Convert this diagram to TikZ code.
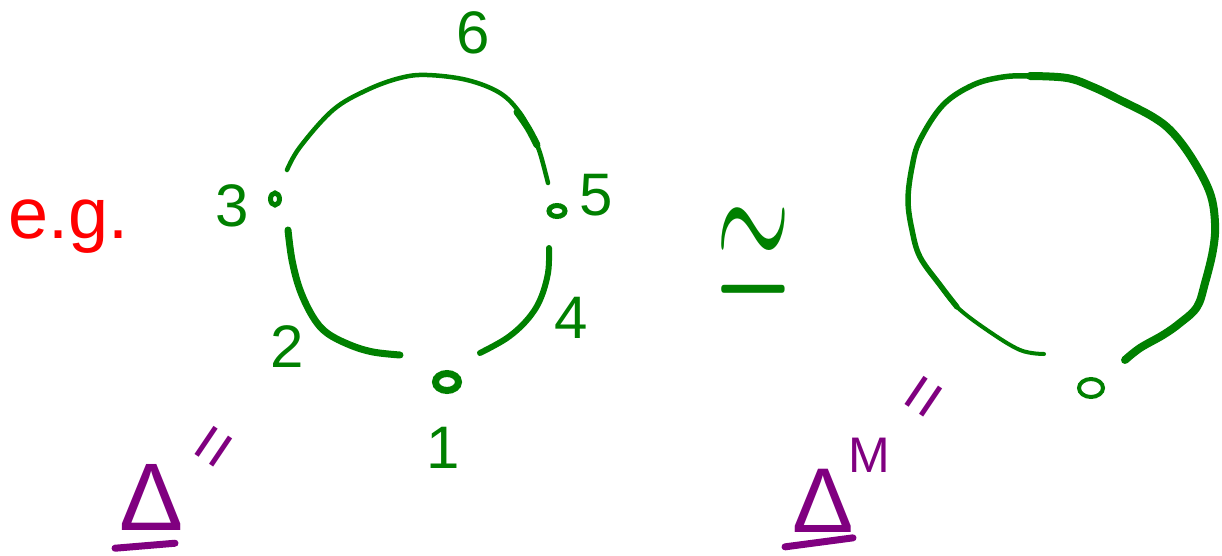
\documentclass[tikz,border=0pt]{standalone}
\usepackage{fontspec}
\setmainfont{Liberation Sans}
\usetikzlibrary{shapes.geometric}
\definecolor{hgreen}{RGB}{0,128,0}
\definecolor{hred}{RGB}{255,0,0}
\definecolor{hpurple}{RGB}{128,0,128}
\begin{document}
\begin{tikzpicture}[x=1pt,y=-1pt,
  pen/.style={draw=hgreen, line cap=round, line join=round},
  ppen/.style={draw=hpurple, line cap=round, line width=7pt},
  lbl/.style={inner sep=0pt, text=hgreen, font=\fontsize{60}{60}\selectfont},
  vtx/.style={ellipse, draw=hgreen, fill=white, inner sep=0pt},
  plbl/.style={inner sep=0pt, text=hpurple}]
\useasboundingbox (0,0) rectangle (1222,556);

% ---------- left diagram ----------
\node[vtx, line width=7pt, minimum width=23pt, minimum height=17pt] (v1) at (447,382) {};
\node[vtx, line width=5pt, minimum width=16pt, minimum height=11pt] (v5) at (557,211) {};
\node[vtx, line width=5pt, minimum width=9pt, minimum height=12pt] (v3) at (275,199) {};

\draw[pen, line width=4.5pt] plot[smooth, tension=0.6] coordinates {
  (287,170) (300,147) (333,110) (367,90) (400,78) (427,75) (467,80)
  (500,93) (520,113) (533,137) (540,153) (548,183)};
\draw[pen, line width=7pt] plot[smooth, tension=0.6] coordinates {
  (517,112) (528,128) (537,145)};
\draw[pen, line width=7pt] plot[smooth, tension=0.6] coordinates {
  (288,230) (292,260) (300,290) (313,317) (327,333) (350,345) (373,352) (400,355)};
\draw[pen, line width=6pt] plot[smooth, tension=0.6] coordinates {
  (549,248) (548,273) (540,300) (527,320) (507,338) (480,353)};

\node[lbl] (l6) at (473,33) {6};
\node[lbl] (l3) at (232,206) {3};
\node[lbl] (l5) at (596,195) {5};
\node[lbl] (l4) at (571,318) {4};
\node[lbl] (l2) at (287,347) {2};
\node[lbl] (l1) at (443,448) {1};

% ---------- e.g. ----------
\node[inner sep=0pt, anchor=base west, text=hred, font=\fontsize{72}{72}\selectfont] (eg) at (8,238) {e.g.};

% ---------- simeq ----------
\node[inner sep=0pt, text=hgreen] (sim) at (753,254) {\scalebox{9.5}[20]{$\simeq$}};

% ---------- right diagram ----------
\node[vtx, line width=4pt, minimum width=24pt, minimum height=18pt] (w1) at (1091,388) {};
\draw[pen, line width=4pt] plot[smooth, tension=0.6] coordinates {
  (1044,354) (1020,350) (987,330) (957,307) (940,285)};
\draw[pen, line width=5.5pt] plot[smooth, tension=0.6] coordinates {
  (957,307) (940,285) (920,257) (912,230) (908,200) (912,167) (920,140)
  (943,105) (973,85) (1003,77) (1030,76) (1067,78)};
\draw[pen, line width=8pt] plot[smooth, tension=0.6] coordinates {
  (1030,76) (1067,78) (1093,87) (1120,100) (1153,117) (1173,133) (1193,160)
  (1210,193) (1215,223) (1213,250) (1205,283) (1197,307) (1180,323)
  (1163,335) (1140,348) (1125,360)};

% ---------- purple Deltas ----------
\node[plbl, font=\fontsize{96}{96}\selectfont] (dl) at (152,497) {Δ};
\draw[ppen] ([xshift=-37pt,yshift=-18pt]dl.south) -- ([xshift=23pt,yshift=-13pt]dl.south);
\node[plbl, font=\fontsize{70}{70}\selectfont, rotate=56] (eql) at (219,450) {=};

\node[plbl, font=\fontsize{92}{92}\selectfont] (dr) at (823,501) {Δ};
\draw[ppen] ([xshift=-38pt,yshift=-14pt]dr.south) -- ([xshift=30pt,yshift=-5pt]dr.south);
\node[plbl, font=\fontsize{50}{50}\selectfont] (mr) at (869,455) {M};
\node[plbl, font=\fontsize{70}{70}\selectfont, rotate=56] (eqr) at (929,400) {=};
\end{tikzpicture}
\end{document}
